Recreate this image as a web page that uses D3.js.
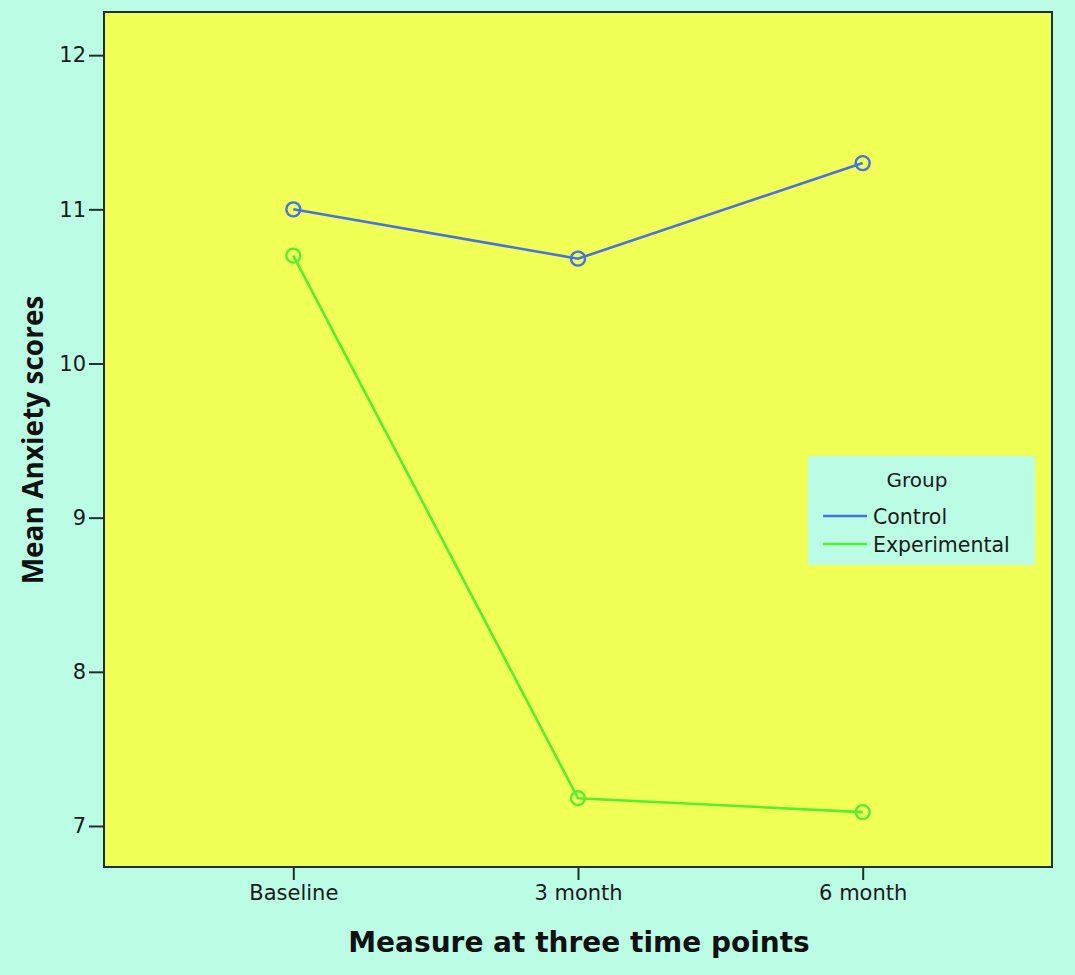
<!DOCTYPE html>
<html><head><meta charset="utf-8">
<script src="https://cdn.jsdelivr.net/npm/d3@7"></script>
<style>html,body{margin:0;padding:0;background:#bafde4;}</style>
</head><body>
<svg id="c" width="1075" height="975"></svg>
<script>
const categories = ["Baseline", "3 month", "6 month"];
const controlValues = [11.0, 10.68, 11.3];
const experimentalValues = [10.7, 7.18, 7.09];
const yTicks = [7, 8, 9, 10, 11, 12];
const seriesNames = ["Control", "Experimental"];
const seriesColors = ["#4a72dc", "#58ee30"];

const svg = d3.select("#c");
const W = 1075, H = 975;
const m = {left: 104, top: 12, right: 1052, bottom: 867};
const FONT = "DejaVu Sans, Verdana, sans-serif";

svg.append("rect").attr("width", W).attr("height", H).attr("fill", "#bafde4");

const x = d3.scalePoint().domain(categories).range([m.left, m.right]).padding(0.665);
const y = d3.scaleLinear().domain([6.734, 12.28]).range([m.bottom, m.top]);

svg.append("rect").attr("x", m.left).attr("y", m.top)
  .attr("width", m.right - m.left).attr("height", m.bottom - m.top)
  .attr("fill", "#f0ff55").attr("stroke", "#1f2f2a").attr("stroke-width", 2);

const yAxis = svg.append("g").attr("transform", `translate(${m.left},0)`)
  .call(d3.axisLeft(y).tickValues(yTicks).tickSize(15).tickPadding(3).tickFormat(d3.format("d")));
yAxis.select(".domain").remove();
yAxis.selectAll("line").attr("stroke", "#1f2f2a").attr("stroke-width", 2);
yAxis.selectAll("text").attr("font-family", FONT).attr("font-size", 21).attr("fill", "#1a1a1a");

const xAxis = svg.append("g").attr("transform", `translate(0,${m.bottom})`)
  .call(d3.axisBottom(x).tickSize(13).tickPadding(5));
xAxis.select(".domain").remove();
xAxis.selectAll("line").attr("stroke", "#1f2f2a").attr("stroke-width", 2);
xAxis.selectAll("text").attr("font-family", FONT).attr("font-size", 21).attr("fill", "#1a1a1a");

const series = [controlValues, experimentalValues];
const line = d3.line().x((d, i) => x(categories[i])).y(d => y(d));
series.forEach((vals, si) => {
  svg.append("path").datum(vals).attr("d", line).attr("fill", "none")
    .attr("stroke", seriesColors[si]).attr("stroke-width", 2.6);
  svg.selectAll(null).data(vals).enter().append("circle")
    .attr("cx", (d, i) => x(categories[i])).attr("cy", d => y(d)).attr("r", 7)
    .attr("fill", "none").attr("stroke", seriesColors[si]).attr("stroke-width", 2.4);
});

svg.append("text").attr("x", 579).attr("y", 952).attr("text-anchor", "middle")
  .attr("font-family", FONT).attr("font-weight", "bold")
  .attr("font-size", 28).attr("fill", "#111").text("Measure at three time points");

svg.append("text").attr("transform", "translate(43,440) rotate(-90)").attr("text-anchor", "middle")
  .attr("font-family", "Open Sans, sans-serif").attr("font-weight", "bold")
  .attr("font-size", 28).attr("fill", "#111").text("Mean Anxiety scores");

// legend
const lg = svg.append("g");
lg.append("rect").attr("x", 808).attr("y", 456).attr("width", 227).attr("height", 109).attr("fill", "#bafde4");
lg.append("text").attr("x", 917).attr("y", 487).attr("text-anchor", "middle")
  .attr("font-family", FONT).attr("font-size", 20).attr("fill", "#1a1a1a").text("Group");
seriesNames.forEach((n, i) => {
  const yy = 516 + i * 28;
  lg.append("line").attr("x1", 823).attr("x2", 867).attr("y1", yy).attr("y2", yy)
    .attr("stroke", seriesColors[i]).attr("stroke-width", 2.6);
  lg.append("text").attr("x", 873).attr("y", yy + 8)
    .attr("font-family", FONT).attr("font-size", 20.5).attr("fill", "#1a1a1a").text(n);
});
</script>
</body></html>
